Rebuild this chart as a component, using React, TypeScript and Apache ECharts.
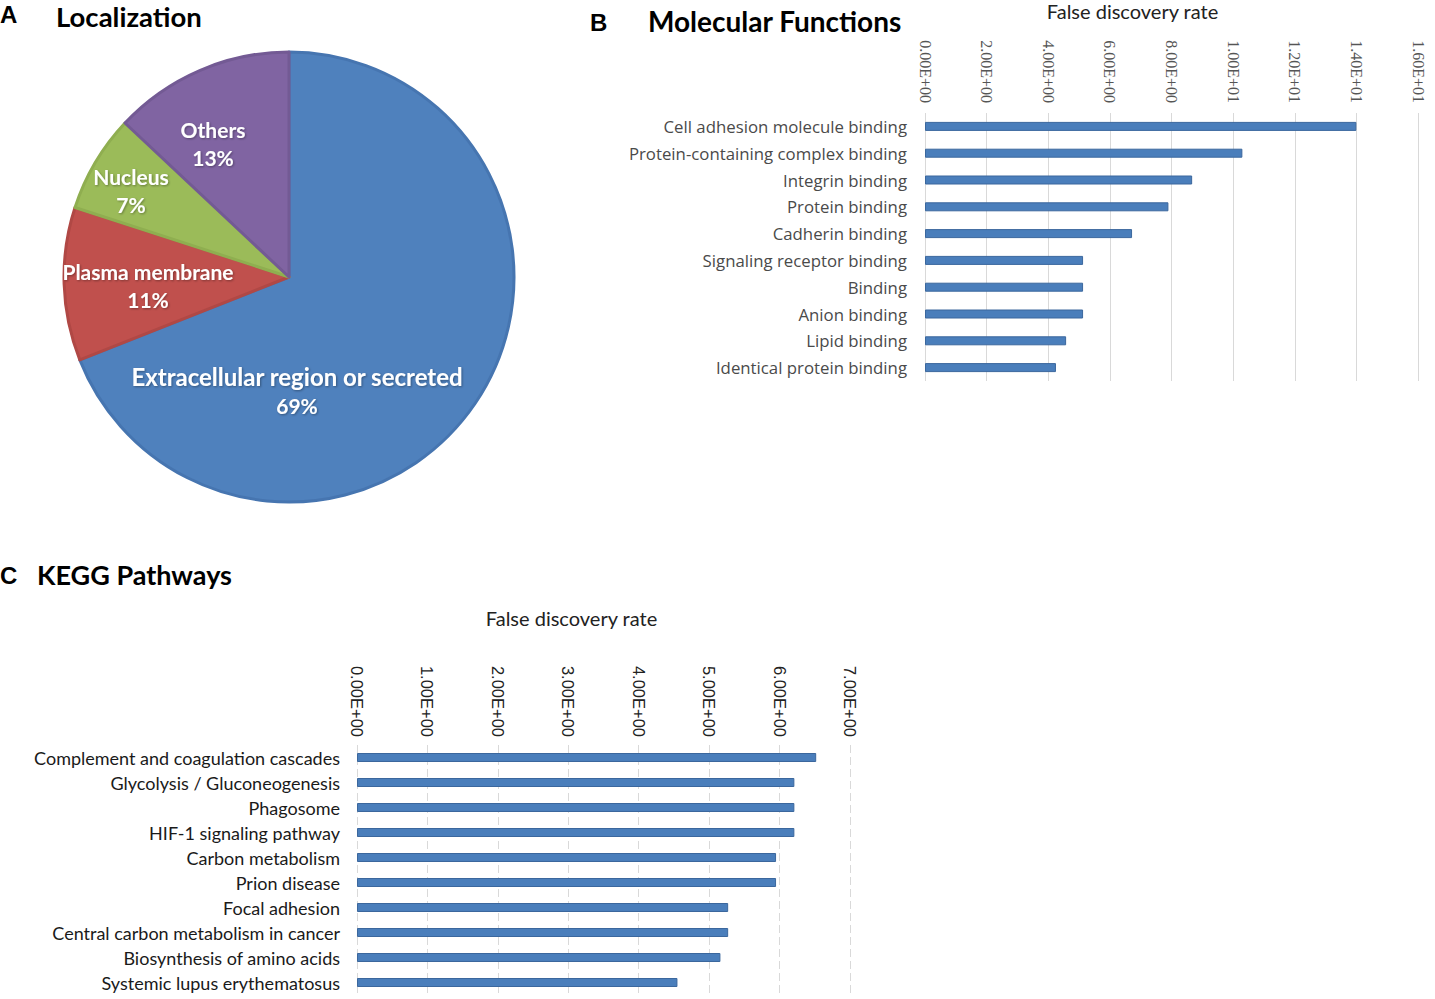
import React, { useEffect, useRef } from "react";
import * as echarts from "echarts";

const locNames = ["Extracellular region or secreted", "Plasma membrane", "Nucleus", "Others"];
const locValues = [69, 11, 7, 13];
const locColors = ["#4f81bd", "#c0504d", "#9bbb59", "#8064a2"];
const locBorders = ["#4675b0", "#b04845", "#8fae50", "#735a94"];

const mfCategories = [
  "Cell adhesion molecule binding",
  "Protein-containing complex binding",
  "Integrin binding",
  "Protein binding",
  "Cadherin binding",
  "Signaling receptor binding",
  "Binding",
  "Anion binding",
  "Lipid binding",
  "Identical protein binding",
];
const mfValues = [14.0, 10.3, 8.67, 7.9, 6.72, 5.13, 5.13, 5.13, 4.58, 4.25];

const keggCategories = [
  "Complement and coagulation cascades",
  "Glycolysis / Gluconeogenesis",
  "Phagosome",
  "HIF-1 signaling pathway",
  "Carbon metabolism",
  "Prion disease",
  "Focal adhesion",
  "Central carbon metabolism in cancer",
  "Biosynthesis of amino acids",
  "Systemic lupus erythematosus",
];
const keggValues = [6.52, 6.21, 6.21, 6.21, 5.95, 5.95, 5.27, 5.27, 5.16, 4.55];

const axisTitle = "False discovery rate";

function sci(v: number): string {
  if (v === 0) return "0.00E+00";
  const e = Math.floor(Math.log10(Math.abs(v)) + 1e-9);
  const m = v / Math.pow(10, e);
  return m.toFixed(2) + "E" + (e < 0 ? "-" : "+") + String(Math.abs(e)).padStart(2, "0");
}

const pieLabelPos: [number, number][] = [
  [297, 390],
  [148, 285],
  [131, 190],
  [213, 143],
];

export default function App() {
  const ref = useRef<HTMLDivElement>(null);
  useEffect(() => {
    if (!ref.current) return;
    const chart = echarts.init(ref.current, undefined, { renderer: "svg" });
    const barColor = "#4a7ebb";
    const barBorder = "#3b679d";
    const titleFont = "Lato";
    const shadow = {
      textShadowColor: "rgba(0,0,0,0.35)",
      textShadowBlur: 2,
      textShadowOffsetX: 1,
      textShadowOffsetY: 1,
    };
    chart.setOption({
      animation: false,
      backgroundColor: "#ffffff",
      title: [
        { text: "A", left: 0, top: 2, padding: 0, textStyle: { fontFamily: "Liberation Sans", fontWeight: "bold", fontSize: 24, lineHeight: 24, color: "#000" } },
        { text: "Localization", left: 56, top: 3, padding: 0, textStyle: { fontFamily: titleFont, fontWeight: "bold", fontSize: 27.5, lineHeight: 26, color: "#000" } },
        { text: "B", left: 590, top: 10, padding: 0, textStyle: { fontFamily: "Liberation Sans", fontWeight: "bold", fontSize: 24, color: "#000" } },
        { text: "Molecular Functions", left: 648, top: 7, padding: 0, textStyle: { fontFamily: titleFont, fontWeight: "bold", fontSize: 28, color: "#000" } },
        { text: "C", left: 0, top: 563, padding: 0, textStyle: { fontFamily: "Liberation Sans", fontWeight: "bold", fontSize: 24, color: "#000" } },
        { text: "KEGG Pathways", left: 37, top: 561, padding: 0, textStyle: { fontFamily: titleFont, fontWeight: "bold", fontSize: 27, color: "#000" } },
      ],
      grid: [
        { left: 925, top: 110, width: 493, height: 271, containLabel: false },
        { left: 357, top: 745, width: 493, height: 250, containLabel: false },
      ],
      xAxis: [
        {
          gridIndex: 0,
          type: "value",
          position: "top",
          min: 0,
          max: 16,
          interval: 2,
          name: axisTitle,
          nameLocation: "middle",
          nameGap: 92,
          nameTextStyle: { fontFamily: "Lato", fontSize: 20, color: "#222", padding: [0, 78, 0, 0] },
          axisLine: { show: false },
          axisTick: { show: false },
          axisLabel: { rotate: 90, margin: 10, formatter: sci, fontFamily: "Liberation Serif", fontSize: 16, color: "#555" },
          splitLine: { show: true, lineStyle: { color: "#d9d9d9", width: 1 } },
        },
        {
          gridIndex: 1,
          type: "value",
          position: "top",
          min: 0,
          max: 7,
          interval: 1,
          name: axisTitle,
          nameLocation: "middle",
          nameGap: 117,
          nameTextStyle: { fontFamily: "Lato", fontSize: 20, color: "#222", padding: [0, 64, 0, 0] },
          axisLine: { show: false },
          axisTick: { show: false },
          axisLabel: { rotate: 90, margin: 8, formatter: sci, fontFamily: "Liberation Sans", fontSize: 16.5, color: "#222" },
          splitLine: { show: true, lineStyle: { color: "#d9d9d9", width: 1, type: [8, 4] } },
        },
      ],
      yAxis: [
        {
          gridIndex: 0,
          type: "category",
          inverse: true,
          data: mfCategories,
          axisLine: { show: false },
          axisTick: { show: false },
          axisLabel: { margin: 18, fontFamily: "Open Sans", fontSize: 16.8, color: "#4a4a4a", padding: [0, 0, 3, 0] },
        },
        {
          gridIndex: 1,
          type: "category",
          inverse: true,
          data: keggCategories,
          axisLine: { show: false },
          axisTick: { show: false },
          axisLabel: { margin: 17, fontFamily: "Lato", fontSize: 18, color: "#1a1a1a" },
        },
      ],
      series: [
        {
          type: "pie",
          center: [289, 277],
          radius: 225,
          startAngle: 90,
          clockwise: true,
          silent: true,
          data: locNames.map((n, i) => ({
            name: n,
            value: locValues[i],
            itemStyle: { color: locColors[i], borderColor: locBorders[i], borderWidth: 3 },
          })),
          label: {
            show: true,
            position: "inside",
            formatter: (p: any) =>
              (p.dataIndex === 0 ? "{big|" : "{n|") + p.name + "}\n{n|" + Math.round(p.percent) + "%}",
            color: "#ffffff",
            align: "center",
            rich: {
              n: { fontFamily: "Lato", fontWeight: "bold", fontSize: 21, lineHeight: 28, color: "#fff", ...shadow },
              big: { fontFamily: "Lato", fontWeight: "bold", fontSize: 24, lineHeight: 30, color: "#fff", ...shadow },
            },
          },
          labelLine: { show: false },
          labelLayout: (params: any) => ({
            x: pieLabelPos[params.dataIndex][0],
            y: pieLabelPos[params.dataIndex][1],
            align: "center",
            verticalAlign: "middle",
          }),
        },
        {
          type: "bar",
          xAxisIndex: 0,
          yAxisIndex: 0,
          data: mfValues,
          barWidth: 9,
          itemStyle: { color: barColor, borderColor: barBorder, borderWidth: 1 },
        },
        {
          type: "bar",
          xAxisIndex: 1,
          yAxisIndex: 1,
          data: keggValues,
          barWidth: 9,
          itemStyle: { color: barColor, borderColor: barBorder, borderWidth: 1 },
        },
      ],
    });
    return () => chart.dispose();
  }, []);
  return <div ref={ref} style={{ position: "absolute", left: 0, top: 0, width: 1435, height: 999 }} />;
}
